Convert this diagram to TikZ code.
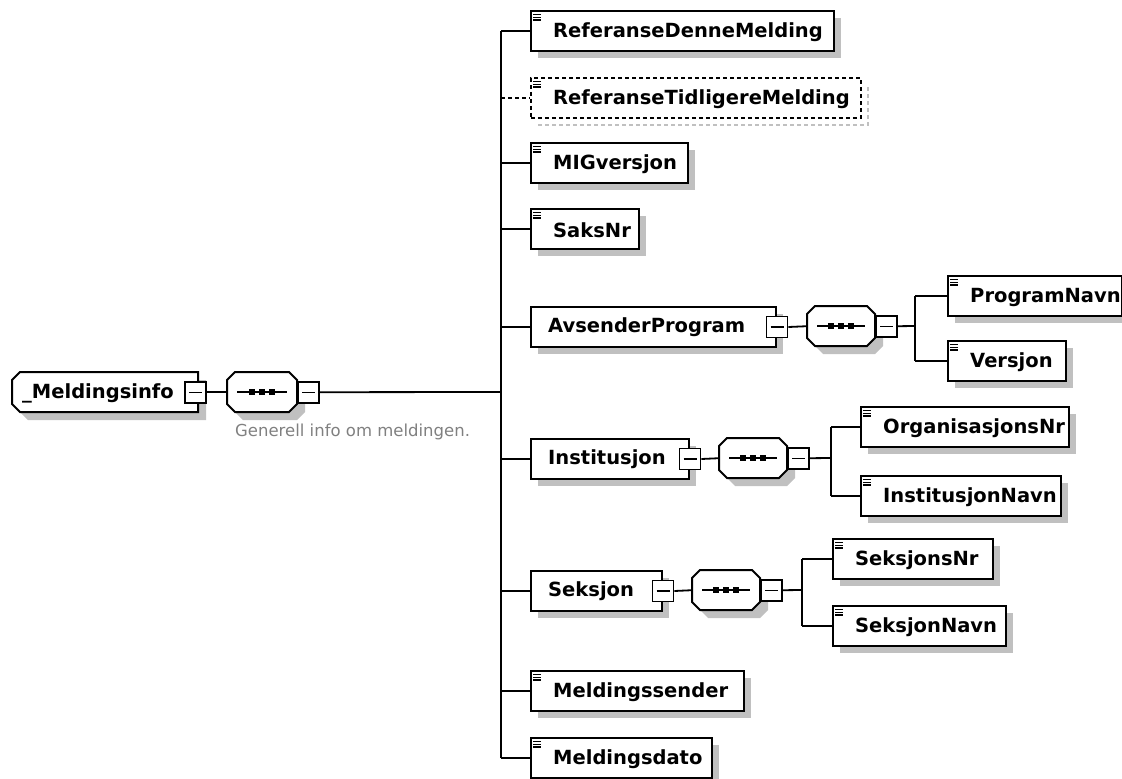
\documentclass[tikz,border=0pt]{standalone}
\usepackage{fontspec}
\setmainfont{DejaVu Sans}
\usetikzlibrary{calc}
\definecolor{shgray}{HTML}{C0C0C0}
\definecolor{capgray}{HTML}{808080}
\tikzset{
  conn/.style={line width=1.8pt},
  boxline/.style={line width=2pt, draw=black, fill=white},
  elem/.style={rectangle, draw=black, fill=white, line width=2pt, minimum height=40pt, inner sep=0pt},
  optelem/.style={elem, line width=1.6pt, dash pattern=on 4pt off 3pt},
  hidbox/.style={rectangle, minimum height=40pt, inner sep=0pt},
  etext/.style={font=\fontsize{19.5}{22}\selectfont\bfseries, inner sep=0pt},
  captext/.style={font=\fontsize{16.5}{19}\selectfont, text=capgray, inner sep=0pt},
  minusbox/.style={rectangle, draw=black, fill=white, line width=1.8pt, minimum size=21pt, inner sep=0pt,
    path picture={\draw[line width=1.3pt] ([xshift=4pt]path picture bounding box.west) -- ([xshift=-4pt]path picture bounding box.east);}},
  iconline/.style={line width=1.2pt}
}
% simple element with icon: name, left, top, width, text
\newcommand\xel[5]{%
  \fill[shgray] (#2+8,#3+8) rectangle (#2+#4+8,#3+48);
  \node[elem, minimum width=#4pt, anchor=north west] (#1) at (#2,#3) {};
  \node[etext, anchor=west] (#1t) at ([shift={(23pt,-1pt)}]#1.west) {#5};
  \foreach \k in {4.5,7.2,9.9} \draw[iconline] ([shift={(3pt,-\k pt)}]#1.north west) -- ++(8pt,0pt);
}
% optional element with icon
\newcommand\xopt[5]{%
  \draw[shgray, line width=1.8pt, dash pattern=on 4pt off 3pt] (#2+8,#3+48) -- (#2+#4+8,#3+48) -- (#2+#4+8,#3+8);
  \node[optelem, minimum width=#4pt, anchor=north west] (#1) at (#2,#3) {};
  \node[etext, anchor=west] (#1t) at ([shift={(23pt,-1pt)}]#1.west) {#5};
  \foreach \k in {4.5,7.2,9.9} \draw[iconline] ([shift={(3pt,-\k pt)}]#1.north west) -- ++(8pt,0pt);
}
% complex element with minus box: name, left, top, width, text
\newcommand\xcel[5]{%
  \fill[shgray] (#2+8,#3+8) rectangle (#2+#4+8,#3+48);
  \node[elem, minimum width=#4pt, anchor=north west] (#1) at (#2,#3) {};
  \node[etext, anchor=west] (#1t) at ([xshift=18pt]#1.west) {#5};
  \node[minusbox] (#1m) at (#1.east) {};
}
% sequence compositor: name, left, top, width
\newcommand\xcomp[4]{%
  \pgfmathsetmacro\cpL{#2}\pgfmathsetmacro\cpR{#2+#4}%
  \pgfmathsetmacro\cpT{#3}\pgfmathsetmacro\cpB{#3+40}%
  \node[hidbox, minimum width=#4pt, anchor=north west] (#1) at (#2,#3) {};
  \begin{scope}[shift={(8,8)}]
    \fill[shgray] (\cpL+8,\cpT) -- (\cpR-8,\cpT) -- (\cpR,\cpT+8) -- (\cpR,\cpB-8) -- (\cpR-8,\cpB) -- (\cpL+8,\cpB) -- (\cpL,\cpB-8) -- (\cpL,\cpT+8) -- cycle;
  \end{scope}
  \filldraw[boxline] (\cpL+8,\cpT) -- (\cpR-8,\cpT) -- (\cpR,\cpT+8) -- (\cpR,\cpB-8) -- (\cpR-8,\cpB) -- (\cpL+8,\cpB) -- (\cpL,\cpB-8) -- (\cpL,\cpT+8) -- cycle;
  \draw[line width=1.5pt] ([xshift=10pt]#1.west) -- ([xshift=-10pt]#1.east);
  \foreach \d in {-10,0,10} \fill ([xshift=\d pt]#1.center) +(-2.8pt,-2.8pt) rectangle +(2.8pt,2.8pt);
  \node[minusbox, anchor=west] (#1m) at (#1.east) {};
}
\begin{document}
\begin{tikzpicture}[x=1pt,y=-1pt]
\useasboundingbox (0,0) rectangle (1122,779);

% root element
\node[hidbox, minimum width=186pt, anchor=north west] (root) at (12,372) {};
\begin{scope}[shift={(8,8)}]
  \fill[shgray] (20,372) -- (198,372) -- (198,412) -- (20,412) -- (12,404) -- (12,380) -- cycle;
\end{scope}
\filldraw[boxline] (20,372) -- (198,372) -- (198,412) -- (20,412) -- (12,404) -- (12,380) -- cycle;
\node[etext, anchor=west] (roott) at ([shift={(10pt,-1pt)}]root.west) {\_Meldingsinfo};
\node[minusbox] (rootm) at ([xshift=-3pt]root.east) {};

\xcomp{c0}{227}{372}{70}
\node[captext, anchor=north west] (cap) at (235,424) {Generell info om meldingen.};

% trunk children
\xel{rdm}{530}{10}{303}{ReferanseDenneMelding}
\xopt{rtm}{530}{77}{330}{ReferanseTidligereMelding}
\xel{mig}{530}{142}{157}{MIGversjon}
\xel{saks}{530}{208}{108}{SaksNr}
\xcel{avs}{530}{306}{245}{AvsenderProgram}
\xcel{inst}{530}{438}{158}{Institusjon}
\xcel{seks}{530}{570}{131}{Seksjon}
\xel{msend}{530}{670}{213}{Meldingssender}
\xel{mdato}{530}{737}{181}{Meldingsdato}

% AvsenderProgram group
\xcomp{c1}{807}{306}{68}
\xel{pn}{947}{275}{174}{ProgramNavn}
\xel{ver}{947}{340}{118}{Versjon}

% Institusjon group
\xcomp{c2}{719}{438}{68}
\xel{org}{860}{406}{208}{OrganisasjonsNr}
\xel{instn}{860}{475}{200}{InstitusjonNavn}

% Seksjon group
\xcomp{c3}{692}{570}{68}
\xel{sn}{832}{538}{160}{SeksjonsNr}
\xel{snavn}{832}{605}{173}{SeksjonNavn}

% connectors
\coordinate (tr) at (501,392);
\coordinate (b1) at (915,326);
\coordinate (b2) at (831,458);
\coordinate (b3) at (802,590);

\draw[conn] (rootm.east) -- (c0.west);
\draw[conn] (c0m.east) -- (tr);
\draw[conn] (tr |- rdm.west) -- (tr |- mdato.west);
\foreach \n in {rdm,mig,saks,avs,inst,seks,msend,mdato}
  \draw[conn] (tr |- \n.west) -- (\n.west);
\draw[conn, line width=1.6pt, dash pattern=on 4pt off 3pt] (tr |- rtm.west) -- (rtm.west);

\draw[conn] (avsm.east) -- (c1.west);
\draw[conn] (c1m.east) -- (b1);
\draw[conn] (b1 |- pn.west) -- (b1 |- ver.west);
\draw[conn] (b1 |- pn.west) -- (pn.west);
\draw[conn] (b1 |- ver.west) -- (ver.west);

\draw[conn] (instm.east) -- (c2.west);
\draw[conn] (c2m.east) -- (b2);
\draw[conn] (b2 |- org.west) -- (b2 |- instn.west);
\draw[conn] (b2 |- org.west) -- (org.west);
\draw[conn] (b2 |- instn.west) -- (instn.west);

\draw[conn] (seksm.east) -- (c3.west);
\draw[conn] (c3m.east) -- (b3);
\draw[conn] (b3 |- sn.west) -- (b3 |- snavn.west);
\draw[conn] (b3 |- sn.west) -- (sn.west);
\draw[conn] (b3 |- snavn.west) -- (snavn.west);
\end{tikzpicture}
\end{document}
